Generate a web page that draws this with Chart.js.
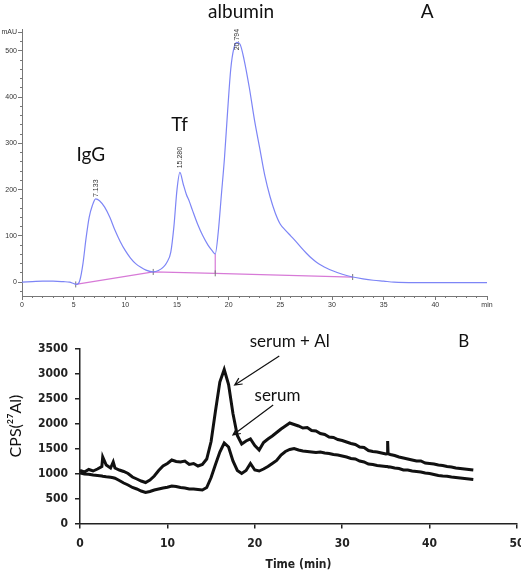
<!DOCTYPE html>
<html>
<head>
<meta charset="utf-8">
<script src="https://cdn.jsdelivr.net/npm/chart.js@4.4.0/dist/chart.umd.min.js"></script>
<style>
body { margin: 0; background: #fff; }
canvas { position: absolute; left: 0; }
</style>
</head>
<body>
<canvas id="chartA" width="521" height="315" style="top:0"></canvas>
<canvas id="chartB" width="521" height="253" style="top:320px"></canvas>
<script>
/* panel A: UV chromatogram (mAU vs min) */
const chromTime = [0,1,2,3,4,4.6,5.0,5.3,5.6,5.9,6.2,6.5,6.8,7.13,7.5,8.0,8.5,9.0,9.5,10.0,
    10.5,11.0,11.5,12.0,12.7,13.2,13.7,14.0,14.4,14.7,15.0,15.28,15.6,15.9,16.2,16.5,17.0,17.5,18.0,18.4,
    18.7,19.0,19.3,19.6,19.9,20.2,20.5,20.79,21.1,21.5,22.0,22.5,23.0,23.5,24.0,24.5,25.0,25.5,26.0,26.5,
    27.0,27.5,28.0,28.5,29.0,29.5,30.0,31.0,32.0,33.0,34.0,35.0,36.0,38.0,40.0,42.0,44.0,45.0];
const chromMAU = [0,1,2,2,1,0,-3,-5,4,40,95,140,165,180,176,162,140,112,88,68,
    52,40,32,26,22,25,33,42,65,120,200,237,212,190,174,155,125,100,80,68,
    61,110,190,270,370,460,505,518,514,480,420,350,290,230,185,150,125,112,100,88,
    75,63,52,43,36,30,25,17,11,7,4,2,0,-1,-1,-1,-1,-1];
const baseTime = [5.2, 12.7, 18.7, 32];
const baseMAU = [-5, 22, 19, 11];
const dropTime = [18.7, 18.7];
const dropMAU = [61, 19];
const peakTimes = [7.133, 15.280, 20.794];
const peakLabels = ["7.133", "15.280", "20.794"];
const peakLabelAt = [184, 246, 501];
const textA = ["IgG", "Tf", "albumin", "A"];
const textAX = [6.67, 15.25, 21.2, 39.2];
const textAY = [275, 340, 584, 584];
const yTicksA = [0, 100, 200, 300, 400, 500, 540];

/* panel B: CPS(27Al) vs time */
const timesB = [0,0.5,1,1.5,2,2.5,2.6,3,3.5,3.8,4,4.5,5,5.5,6,6.5,7,7.5,8,8.5,
    9,9.5,10,10.5,11,11.5,12,12.5,13,13.5,14,14.5,15,15.5,16,16.5,17,17.5,18,18.5,
    19,19.5,20,20.5,21,21.5,22,22.5,23,23.5,24,24.5,25,25.5,26,26.5,27,27.5,28,28.5,
    29,29.5,30,30.5,31,31.5,32,32.5,33,33.5,34,34.5,35,35.15,35.2,35.25,35.5,36,36.5,37,37.5,38,
    38.5,39,39.5,40,40.5,41,41.5,42,42.5,43,43.5,44,44.5,45];
const serumAl = [1060,1030,1080,1050,1090,1140,1330,1170,1110,1230,
    1110,1070,1040,1000,930,890,850,820,870,950,
    1060,1150,1200,1270,1240,1230,1250,1180,1200,1150,
    1180,1290,1640,2250,2830,3080,2780,2200,1760,1590,
    1650,1690,1560,1470,1620,1690,1750,1820,1890,1950,
    2010,1980,1950,1910,1920,1860,1850,1800,1780,1730,
    1720,1680,1660,1630,1600,1580,1530,1520,1460,1440,
    1430,1410,1390,1395,1650,1395,1380,1360,1330,1310,1290,1270,
    1250,1250,1210,1200,1190,1170,1160,1140,1130,1110,
    1100,1090,1080,1070];
const serum = [1010,990,985,970,960,950,945,935,925,915,
    905,860,810,770,720,690,650,620,640,670,
    690,710,725,750,740,720,710,690,690,680,
    670,720,920,1180,1430,1610,1530,1250,1060,1000,
    1060,1200,1070,1050,1090,1140,1200,1260,1370,1440,
    1480,1500,1470,1450,1440,1430,1420,1430,1410,1400,
    1380,1370,1350,1330,1300,1290,1250,1230,1190,1180,
    1160,1150,1140,1138,1135,1133,1130,1110,1100,1070,1070,1050,
    1040,1030,1010,1000,980,960,950,945,930,920,
    910,900,890,880];
const textB = ["serum + Al", "serum", "B"];
const textBX = [24.0, 22.6, 43.9];
const textBY = [3636, 2550, 3640];
// arrows: tail -> tip
const arrowFromX = [22.8, 22.1];
const arrowFromY = [3350, 2370];
const arrowToX = [17.7, 17.5];
const arrowToY = [2770, 1770];

function pts(xs, ys) {
    return xs.map((x, i) => ({x: x, y: ys[i]}));
}

const axisGrey = "#777";
const smallFont = {family: "'Liberation Sans', Arial, sans-serif", size: 7};

const annotA = {
    id: "annotA",
    afterDraw(chart) {
        const ctx = chart.ctx, xs = chart.scales.x, ys = chart.scales.y;
        ctx.save();
        ctx.fillStyle = "#333";
        ctx.font = "7px 'Liberation Sans', Arial, sans-serif";
        ctx.textAlign = "left";
        ctx.textBaseline = "middle";
        peakTimes.forEach(function (t, i) {
            ctx.save();
            ctx.translate(xs.getPixelForValue(t), ys.getPixelForValue(peakLabelAt[i]));
            ctx.rotate(-Math.PI / 2);
            ctx.fillText(peakLabels[i], 0, 0);
            ctx.restore();
        });
        ctx.fillStyle = "#111";
        ctx.font = "19px Lato, 'Open Sans', sans-serif";
        ctx.textAlign = "center";
        for (let i = 0; i < textA.length; i++) {
            ctx.fillText(textA[i], xs.getPixelForValue(textAX[i]), ys.getPixelForValue(textAY[i]));
        }
        ctx.restore();
    }
};

var chartA = new Chart(document.getElementById("chartA").getContext("2d"), {
    type: "line",
    data: {
        datasets: [{
            data: pts(chromTime, chromMAU),
            borderColor: "#7d85f6",
            borderWidth: 1.2,
            pointRadius: 0,
            cubicInterpolationMode: "monotone"
        }, {
            data: pts(baseTime, baseMAU),
            borderColor: "#d77ad7",
            borderWidth: 1.2,
            pointStyle: "line",
            rotation: 90,
            pointRadius: 3,
            pointBorderColor: "#777",
            pointBorderWidth: 1
        }, {
            data: pts(dropTime, dropMAU),
            borderColor: "#d77ad7",
            borderWidth: 1.2,
            pointRadius: 0
        }]
    },
    options: {
        responsive: false,
        animation: false,
        events: [],
        layout: {padding: {top: 29, right: 34, left: 0, bottom: 0}},
        plugins: {legend: {display: false}, tooltip: {enabled: false}},
        scales: {
            x: {
                type: "linear", min: 0, max: 45, position: "bottom", weight: 1,
                ticks: {stepSize: 5, font: smallFont, color: "#333", padding: 1, maxRotation: 0, autoSkip: false,
                    callback: v => v === 45 ? "min" : v},
                grid: {drawOnChartArea: false, tickLength: 4, color: axisGrey},
                border: {color: axisGrey, width: 1},
                afterFit: s => { s.height = 19; s.paddingLeft = 0; s.paddingRight = 0; }
            },
            xm: {
                type: "linear", min: 0, max: 45, position: "bottom", weight: 0,
                ticks: {display: false, stepSize: 1},
                grid: {drawOnChartArea: false, tickLength: 2, color: axisGrey},
                border: {display: false},
                afterFit: s => { s.height = 0; s.paddingLeft = 0; s.paddingRight = 0; }
            },
            y: {
                type: "linear", min: -30, max: 547, position: "left", weight: 1,
                afterBuildTicks: s => { s.ticks = yTicksA.map(v => ({value: v})); },
                ticks: {font: smallFont, color: "#333", padding: 1,
                    callback: v => v === 540 ? "mAU" : v},
                grid: {drawOnChartArea: false, tickLength: 4, color: axisGrey},
                border: {color: axisGrey, width: 1},
                afterFit: s => { s.width = 22; s.paddingTop = 0; s.paddingBottom = 0; }
            },
            ym: {
                type: "linear", min: -30, max: 547, position: "left", weight: 0,
                afterBuildTicks: s => {
                    let t = [];
                    for (let v = -20; v <= 540; v += 20) t.push({value: v});
                    s.ticks = t;
                },
                ticks: {display: false},
                grid: {drawOnChartArea: false, tickLength: 2, color: axisGrey},
                border: {display: false},
                afterFit: s => { s.width = 0; s.paddingTop = 0; s.paddingBottom = 0; }
            }
        }
    },
    plugins: [annotA]
});

const annotB = {
    id: "annotB",
    afterDraw(chart) {
        const ctx = chart.ctx, xs = chart.scales.x, ys = chart.scales.y;
        ctx.save();
        ctx.fillStyle = "#111";
        ctx.font = "17px Lato, 'Open Sans', sans-serif";
        ctx.textAlign = "center";
        ctx.textBaseline = "middle";
        for (let i = 0; i < textB.length; i++) {
            ctx.fillText(textB[i], xs.getPixelForValue(textBX[i]), ys.getPixelForValue(textBY[i]));
        }
        // arrows
        ctx.strokeStyle = "#111";
        ctx.lineWidth = 1.2;
        for (let i = 0; i < arrowFromX.length; i++) {
            let x0 = xs.getPixelForValue(arrowFromX[i]), y0 = ys.getPixelForValue(arrowFromY[i]);
            let x1 = xs.getPixelForValue(arrowToX[i]), y1 = ys.getPixelForValue(arrowToY[i]);
            let a = Math.atan2(y1 - y0, x1 - x0);
            ctx.beginPath();
            ctx.moveTo(x0, y0);
            ctx.lineTo(x1, y1);
            ctx.moveTo(x1 - 8 * Math.cos(a - 0.45), y1 - 8 * Math.sin(a - 0.45));
            ctx.lineTo(x1, y1);
            ctx.lineTo(x1 - 8 * Math.cos(a + 0.45), y1 - 8 * Math.sin(a + 0.45));
            ctx.stroke();
        }
        // y title
        ctx.save();
        ctx.translate(15.5, ys.getPixelForValue(1950));
        ctx.rotate(-Math.PI / 2);
        ctx.font = "16px Lato, 'Open Sans', sans-serif";
        ctx.fillText("CPS(\u00B2\u2077Al)", 0, 0);
        ctx.restore();
        ctx.restore();
    }
};

const boldNarrow = {family: "'Liberation Sans Narrow', 'Arial Narrow', 'DejaVu Sans Condensed', sans-serif", size: 12, weight: "bold"};

var chartB = new Chart(document.getElementById("chartB").getContext("2d"), {
    type: "line",
    data: {
        datasets: [{
            data: pts(timesB, serumAl),
            borderColor: "#111",
            borderWidth: 3,
            pointRadius: 0,
            tension: 0
        }, {
            data: pts(timesB, serum),
            borderColor: "#111",
            borderWidth: 3,
            pointRadius: 0,
            tension: 0
        }]
    },
    options: {
        responsive: false,
        animation: false,
        events: [],
        layout: {padding: {top: 28.5, right: 4, left: 0, bottom: 0}},
        plugins: {legend: {display: false}, tooltip: {enabled: false}},
        scales: {
            x: {
                type: "linear", min: 0, max: 50,
                ticks: {stepSize: 10, font: boldNarrow, color: "#222", padding: 8, maxRotation: 0,
                    callback: v => String(v)},
                grid: {drawOnChartArea: false, tickLength: 5, color: "#222", lineWidth: 1.5},
                border: {color: "#222", width: 1.5},
                title: {display: true, text: "Time (min)", font: boldNarrow, color: "#222", padding: {top: 0, bottom: 1}},
                afterFit: s => { s.height = 49.5; s.paddingLeft = 0; s.paddingRight = 0; }
            },
            y: {
                type: "linear", min: 0, max: 3500,
                ticks: {stepSize: 500, font: boldNarrow, color: "#222", padding: 7,
                    callback: v => String(v)},
                grid: {drawOnChartArea: false, tickLength: 5, color: "#222", lineWidth: 1.5},
                border: {color: "#222", width: 1.5},
                afterFit: s => { s.width = 80; s.paddingTop = 0; s.paddingBottom = 0; }
            }
        }
    },
    plugins: [annotB]
});
</script>
</body>
</html>
